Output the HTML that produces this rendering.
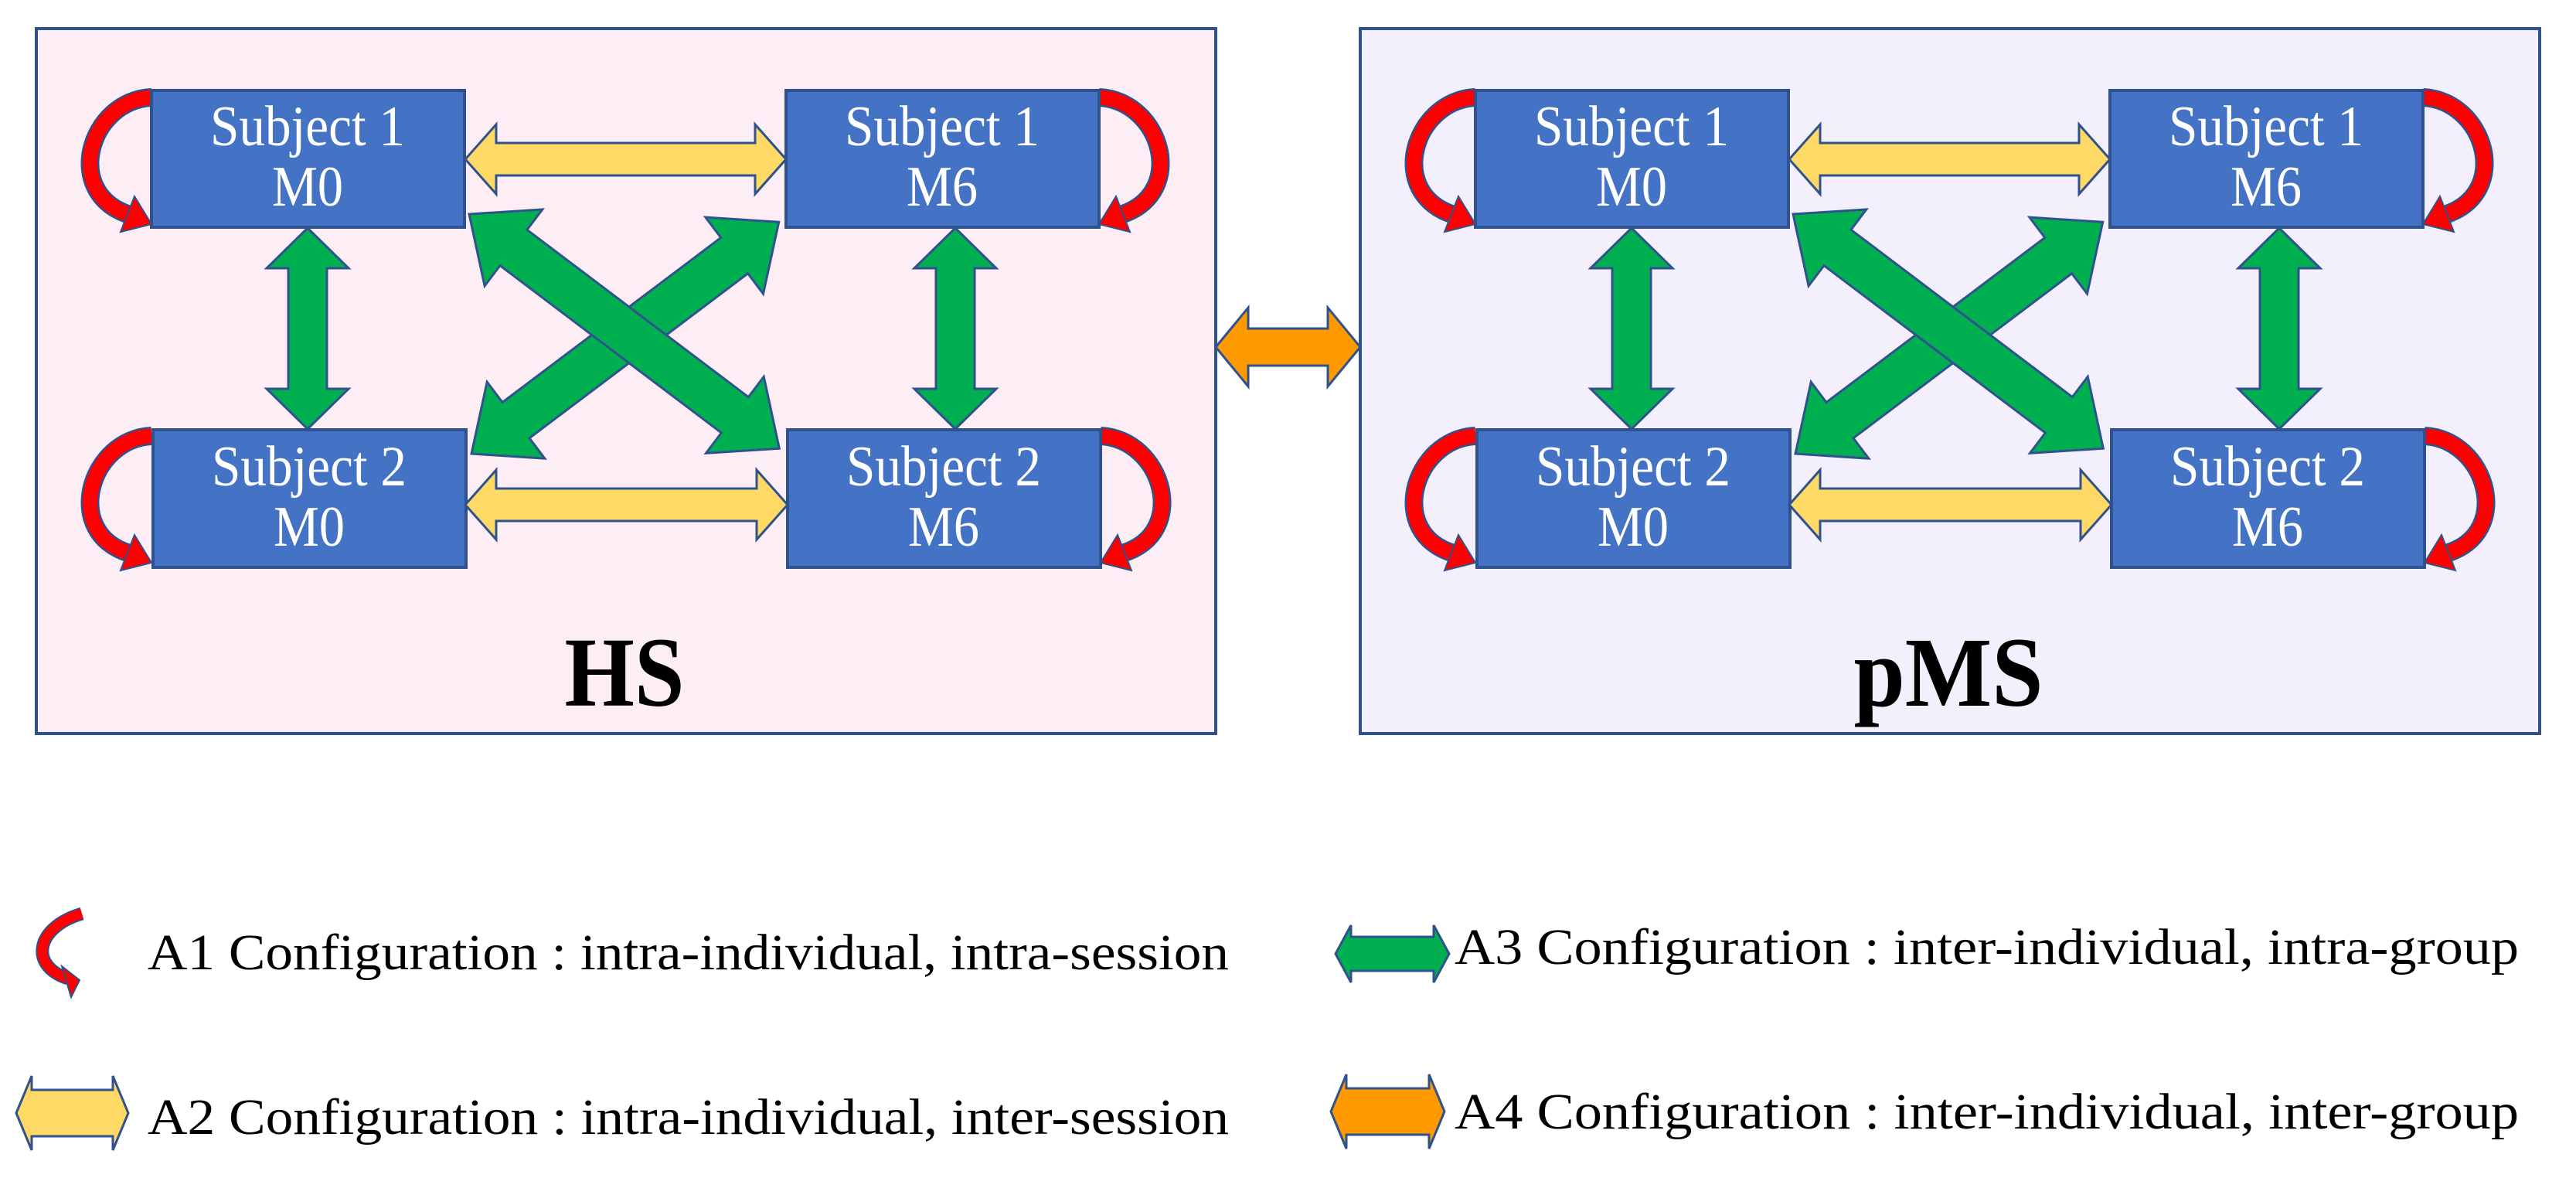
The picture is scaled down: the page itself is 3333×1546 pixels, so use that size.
<!DOCTYPE html>
<html><head><meta charset="utf-8"><style>html,body{margin:0;padding:0;background:#fff}svg{display:block}</style></head>
<body>
<svg width="3333" height="1546" viewBox="0 0 3333 1546" xmlns="http://www.w3.org/2000/svg">
<rect x="47" y="37" width="1526" height="912" fill="#fdeef5" stroke="#2f528f" stroke-width="4"/>
<rect x="1760" y="37" width="1526" height="912" fill="#f4effd" stroke="#2f528f" stroke-width="4"/>

<g id="panel">
  <g fill="none" stroke-linecap="butt">
    <path d="M196,126 C115,130 80,250 168,278" stroke="#2f528f" stroke-width="24"/>
    <path d="M196,126 C115,130 80,250 168,278" stroke="#ff0000" stroke-width="19"/>
    <path d="M196,564 C115,568 80,690 168,716" stroke="#2f528f" stroke-width="24"/>
    <path d="M196,564 C115,568 80,690 168,716" stroke="#ff0000" stroke-width="19"/>
    <path d="M1422,126 C1503,130 1538,250 1450,278" stroke="#2f528f" stroke-width="24"/>
    <path d="M1422,126 C1503,130 1538,250 1450,278" stroke="#ff0000" stroke-width="19"/>
    <path d="M1424,564 C1505,568 1540,690 1452,716" stroke="#2f528f" stroke-width="24"/>
    <path d="M1424,564 C1505,568 1540,690 1452,716" stroke="#ff0000" stroke-width="19"/>
  </g>
  <g fill="#ff0000" stroke="#2f528f" stroke-width="2">
    <polygon points="174,254 196,290 156,300"/>
    <polygon points="174,692 196,728 156,738"/>
    <polygon points="1444,254 1422,290 1462,300"/>
    <polygon points="1446,692 1424,728 1464,738"/>
  </g>
  <g fill="#4472c4" stroke="#2f528f" stroke-width="4">
    <rect x="196" y="117" width="405" height="177"/>
    <rect x="1017" y="117" width="405" height="177"/>
    <rect x="198" y="556" width="405" height="178"/>
    <rect x="1019" y="556" width="405" height="178"/>
  </g>
  <g fill="#ffd966" stroke="#2f528f" stroke-width="3">
    <polygon points="602,206 642,161 642,185 977,185 977,161 1017,206 977,251 977,227 642,227 642,251"/>
    <polygon points="602,653 642,608 642,632 979,632 979,608 1019,653 979,698 979,674 642,674 642,698"/>
  </g>
  <g fill="#00b050" stroke="#2f528f" stroke-width="3">
    <polygon points="398,295 451,347 423,347 423,503 451,503 398,555 345,503 373,503 373,347 345,347"/>
    <polygon points="1236,295 1289,347 1261,347 1261,503 1289,503 1236,555 1183,503 1211,503 1211,347 1183,347"/>
    <g transform="translate(610,587) rotate(-37)">
      <polygon points="0,0 72,-62 72,-29 426,-29 426,-62 498,0 426,62 426,29 72,29 72,62"/>
    </g>
    <g transform="translate(607,277) rotate(37.07)">
      <polygon points="0,0 72,-62 72,-29 431,-29 431,-62 503,0 431,62 431,29 72,29 72,62"/>
    </g>
  </g>
  <g font-family="'Liberation Serif', serif" font-size="74" fill="#fff" text-anchor="middle">
    <text x="398" y="188" textLength="252" lengthAdjust="spacingAndGlyphs">Subject 1</text>
    <text x="398" y="266" textLength="92" lengthAdjust="spacingAndGlyphs">M0</text>
    <text x="1219" y="188" textLength="252" lengthAdjust="spacingAndGlyphs">Subject 1</text>
    <text x="1219" y="266" textLength="92" lengthAdjust="spacingAndGlyphs">M6</text>
    <text x="400" y="628" textLength="252" lengthAdjust="spacingAndGlyphs">Subject 2</text>
    <text x="400" y="706" textLength="92" lengthAdjust="spacingAndGlyphs">M0</text>
    <text x="1221" y="628" textLength="252" lengthAdjust="spacingAndGlyphs">Subject 2</text>
    <text x="1221" y="706" textLength="92" lengthAdjust="spacingAndGlyphs">M6</text>
  </g>
</g>
<use href="#panel" transform="translate(1713,0)"/>

<text x="808" y="913" font-family="'Liberation Serif', serif" font-weight="bold" font-size="128" text-anchor="middle" fill="#000" textLength="155" lengthAdjust="spacingAndGlyphs">HS</text>
<text x="2521" y="913" font-family="'Liberation Serif', serif" font-weight="bold" font-size="128" text-anchor="middle" fill="#000" textLength="245" lengthAdjust="spacingAndGlyphs">pMS</text>

<polygon fill="#ff9900" stroke="#2f528f" stroke-width="3" points="1573,449 1615,398 1615,425 1718,425 1718,398 1760,449 1718,500 1718,473 1615,473 1615,500"/>

<path d="M106,1182 C45,1200 38,1250 88,1266" fill="none" stroke="#2f528f" stroke-width="17"/>
<path d="M106,1182 C45,1200 38,1250 88,1266" fill="none" stroke="#ff0000" stroke-width="13"/>
<polygon points="80,1250 103,1268 92,1290" fill="#ff0000" stroke="#2f528f" stroke-width="2"/>
<polygon fill="#00b050" stroke="#2f528f" stroke-width="3" points="1728,1234 1748,1197 1748,1212 1855,1212 1855,1197 1875,1234 1855,1271 1855,1256 1748,1256 1748,1271"/>
<polygon fill="#ffd966" stroke="#2f528f" stroke-width="3" points="21,1440 41,1392 41,1410 146,1410 146,1392 166,1440 146,1488 146,1470 41,1470 41,1488"/>
<polygon fill="#ff9900" stroke="#2f528f" stroke-width="3" points="1722,1438 1742,1390 1742,1408 1849,1408 1849,1390 1869,1438 1849,1486 1849,1468 1742,1468 1742,1486"/>

<g font-family="'Liberation Serif', serif" font-size="66" fill="#000">
  <text x="191" y="1254" textLength="1399" lengthAdjust="spacingAndGlyphs">A1 Configuration : intra-individual, intra-session</text>
  <text x="191" y="1467" textLength="1399" lengthAdjust="spacingAndGlyphs">A2 Configuration : intra-individual, inter-session</text>
  <text x="1882" y="1247" textLength="1377" lengthAdjust="spacingAndGlyphs">A3 Configuration : inter-individual, intra-group</text>
  <text x="1882" y="1460" textLength="1377" lengthAdjust="spacingAndGlyphs">A4 Configuration : inter-individual, inter-group</text>
</g>
</svg>
</body></html>
